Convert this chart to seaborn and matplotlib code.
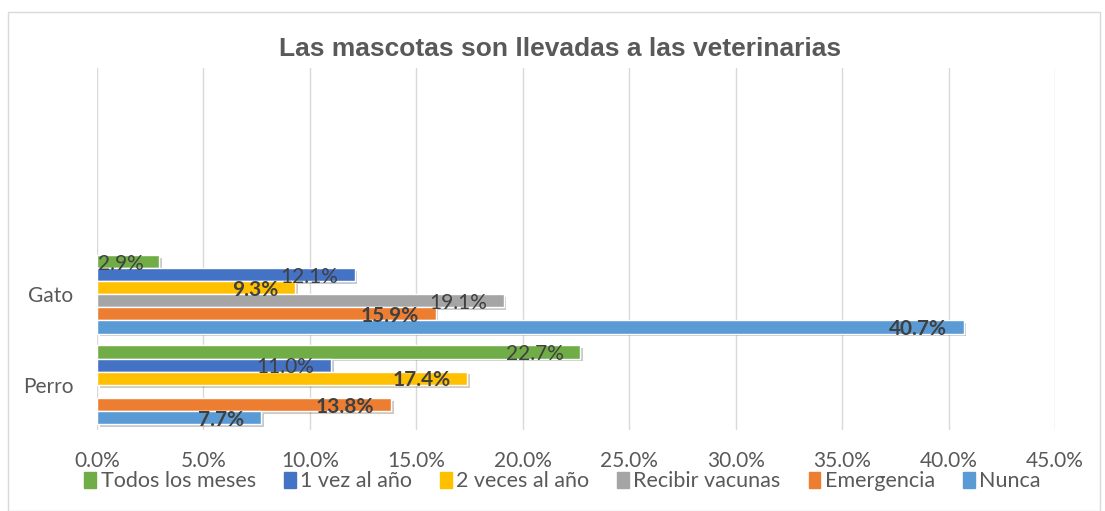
import numpy as np
import pandas as pd
import matplotlib
matplotlib.use("Agg")
import matplotlib.pyplot as plt
import matplotlib.patheffects as pe
from matplotlib.patches import Rectangle
import seaborn as sns

#%% data
animals = ["Gato", "Perro"]
series = ["Todos los meses", "1 vez al año", "2 veces al año",
          "Recibir vacunas", "Emergencia", "Nunca"]
gato = [2.9, 12.1, 9.3, 19.1, 15.9, 40.7]
perro = [22.7, 11.0, 17.4, np.nan, 13.8, 7.7]
colors = ["#70AD47", "#4472C4", "#FFC000", "#A5A5A5", "#ED7D31", "#5B9BD5"]
bold_series = ["2 veces al año", "Emergencia", "Nunca"]
xticks = np.arange(0, 50, 5)

df = pd.DataFrame({
    "animal": np.repeat(animals, len(series)),
    "serie": series * len(animals),
    "valor": gato + perro,
})

#%% figure
sns.set_style("white")
plt.rcParams["font.family"] = ["Lato", "DejaVu Sans"]
txt = "#595959"

fig = plt.figure(figsize=(11.05, 5.11), dpi=100)
ax = fig.add_axes([0.0878, 0.1585, 0.867, 0.7085])

sns.barplot(data=df, y="animal", x="valor", hue="serie", order=animals,
            hue_order=series, palette=colors, orient="h", width=0.87,
            ax=ax, legend=True, saturation=1)

# soft shadow like the office chart
for bar in ax.patches:
    bar.set_path_effects([pe.SimplePatchShadow(offset=(2, -2), alpha=0.25), pe.Normal()])

ax.set_xlim(0, 45)
ax.set_ylim(1.5, -2.5)
ax.set_xticks(xticks)
ax.set_xticklabels([f"{t:.1f}%" for t in xticks], color=txt, fontsize=15)
ax.tick_params(axis="x", length=0, pad=15)
ax.tick_params(axis="y", length=0, pad=17, labelsize=15, labelcolor=txt)
ax.set_xlabel("")
ax.set_ylabel("")
for s in ax.spines.values():
    s.set_visible(False)
ax.grid(axis="x", color="#d9d9d9", lw=1)
ax.set_axisbelow(True)

# data labels, inside end
for cont, name in zip(ax.containers, series):
    for bar in cont:
        w = bar.get_width()
        if np.isnan(w) or w == 0:
            continue
        yc = bar.get_y() + bar.get_height() / 2
        if w < 5:
            x, ha, off = 0, "left", 1
        else:
            x, ha, off = w, "right", -12
        ax.annotate(f"{w:.1f}%", (x, yc), xytext=(off, -1.5), textcoords="offset points",
                    ha=ha, va="center", fontsize=15, color="#404040",
                    fontweight="bold" if name in bold_series else "normal")

ax.legend_.remove()
handles = [Rectangle((0, 0), 1, 1, color=c) for c in colors]
fig.legend(handles, series, loc="center", bbox_to_anchor=(0.509, 0.058), ncol=6,
           frameon=False, fontsize=15.5, labelcolor=txt, handlelength=0.55,
           handleheight=0.8, handletextpad=0.2, columnspacing=1.3,
           borderpad=0)

fig.text(0.507, 1 - 49 / 511, "Las mascotas son llevadas a las veterinarias",
         ha="center", va="center", fontsize=19, fontweight="bold", color=txt,
         family=["Liberation Sans", "DejaVu Sans"])

fig.patches.append(Rectangle((8 / 1105, 0), 1092 / 1105, 499 / 511,
                             transform=fig.transFigure, fill=False,
                             ec="#d9d9d9", lw=1))

fig.savefig("out.png", dpi=100)
